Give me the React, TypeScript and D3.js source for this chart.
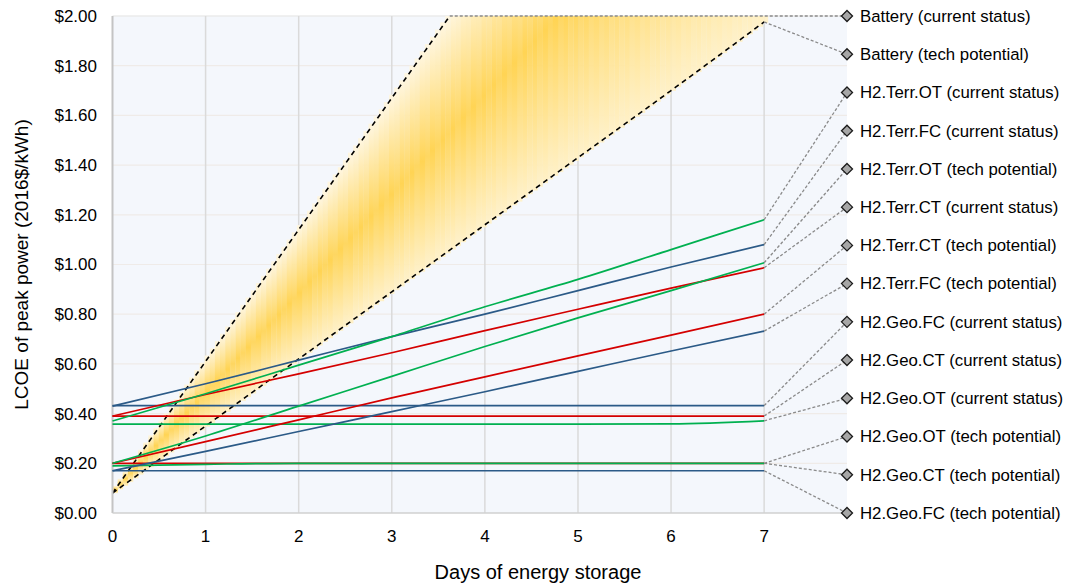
import React from "react";
import * as d3 from "d3";

// days of storage at which every series was read
const DAYS = [0, 1, 2, 3, 4, 5, 6, 7];

// battery LCOE band edges
const BATTERY_CURRENT = [0.08, 0.61, 1.14, 1.67, 2.2, 2.73, 3.26, 3.79];
const BATTERY_TECH = [0.08, 0.35, 0.62, 0.89, 1.16, 1.43, 1.7, 1.976];

// hydrogen series
const TERR_OT_CURRENT = [0.37, 0.48, 0.595, 0.71, 0.83, 0.94, 1.06, 1.18];
const TERR_FC_CURRENT = [0.43, 0.52, 0.615, 0.71, 0.8, 0.895, 0.99, 1.08];
const TERR_OT_TECH = [0.2, 0.31, 0.43, 0.55, 0.67, 0.785, 0.895, 1.007];
const TERR_CT_CURRENT = [0.39, 0.477, 0.56, 0.645, 0.734, 0.82, 0.905, 0.987];
const TERR_CT_TECH = [0.2, 0.287, 0.375, 0.463, 0.548, 0.632, 0.716, 0.8];
const TERR_FC_TECH = [0.17, 0.248, 0.328, 0.408, 0.488, 0.57, 0.652, 0.732];
const GEO_FC_CURRENT = [0.432, 0.432, 0.432, 0.432, 0.432, 0.432, 0.432, 0.432];
const GEO_CT_CURRENT = [0.39, 0.39, 0.39, 0.39, 0.39, 0.39, 0.39, 0.39];
const GEO_OT_CURRENT = [0.358, 0.358, 0.358, 0.358, 0.358, 0.358, 0.359, 0.371];
const GEO_OT_TECH = [0.19, 0.196, 0.2, 0.2, 0.2, 0.2, 0.2, 0.2];
const GEO_CT_TECH = [0.2, 0.2, 0.2, 0.2, 0.2, 0.2, 0.2, 0.2];
const GEO_FC_TECH = [0.17, 0.17, 0.17, 0.17, 0.17, 0.17, 0.17, 0.17];

const H2_SERIES = [
  { label: "H2.Terr.OT (current status)", tech: "OT", values: TERR_OT_CURRENT },
  { label: "H2.Terr.FC (current status)", tech: "FC", values: TERR_FC_CURRENT },
  { label: "H2.Terr.OT (tech potential)", tech: "OT", values: TERR_OT_TECH },
  { label: "H2.Terr.CT (current status)", tech: "CT", values: TERR_CT_CURRENT },
  { label: "H2.Terr.CT (tech potential)", tech: "CT", values: TERR_CT_TECH },
  { label: "H2.Terr.FC (tech potential)", tech: "FC", values: TERR_FC_TECH },
  { label: "H2.Geo.FC (current status)", tech: "FC", values: GEO_FC_CURRENT },
  { label: "H2.Geo.CT (current status)", tech: "CT", values: GEO_CT_CURRENT },
  { label: "H2.Geo.OT (current status)", tech: "OT", values: GEO_OT_CURRENT },
  { label: "H2.Geo.OT (tech potential)", tech: "OT", values: GEO_OT_TECH },
  { label: "H2.Geo.CT (tech potential)", tech: "CT", values: GEO_CT_TECH },
  { label: "H2.Geo.FC (tech potential)", tech: "FC", values: GEO_FC_TECH },
];

const BATTERY_LABELS = ["Battery (current status)", "Battery (tech potential)"];
const LEGEND_LABELS = [...BATTERY_LABELS, ...H2_SERIES.map((s) => s.label)];

const TECH_COLORS: Record<string, string> = {
  OT: "#00B050",
  FC: "#2B5A87",
  CT: "#D40000",
};

const Y_TICKS = [0, 0.2, 0.4, 0.6, 0.8, 1.0, 1.2, 1.4, 1.6, 1.8, 2.0];
const X_TICKS = DAYS;
const X_MAX = 7.89;

const FONT = "'Liberation Sans', Arial, sans-serif";

const App = () => {
  const left = 112.5;
  const right = 847;
  const top = 16;
  const bottom = 513;

  const x = d3.scaleLinear().domain([0, X_MAX]).range([left, right]);
  const y = d3.scaleLinear().domain([0, 2]).range([bottom, top]);
  const slot = d3.scalePoint<string>().domain(LEGEND_LABELS).range([top, bottom]);

  const line = d3
    .line<number>()
    .x((_, i) => x(DAYS[i]))
    .y((d) => y(d))
    .curve(d3.curveMonotoneX);

  const upper = d3.scaleLinear(DAYS, BATTERY_CURRENT);
  const lower = d3.scaleLinear(DAYS, BATTERY_TECH);
  const dayAtTop = d3.scaleLinear(BATTERY_CURRENT, DAYS)(2);
  const step = 0.055;
  const strips = d3.range(0, 7, step);
  const fmt = d3.format("$.2f");
  const lastDay = DAYS[DAYS.length - 1];

  const leaders = [
    { x0: x(dayAtTop), y0: y(2), label: BATTERY_LABELS[0] },
    { x0: x(lastDay), y0: y(BATTERY_TECH[BATTERY_TECH.length - 1]), label: BATTERY_LABELS[1] },
    ...H2_SERIES.map((s) => ({
      x0: x(lastDay),
      y0: y(s.values[s.values.length - 1]),
      label: s.label,
    })),
  ];

  return (
    <svg
      width={1065}
      height={586}
      style={{ position: "absolute", left: 0, top: 0, background: "#fff" }}
      fontFamily={FONT}
    >
      <defs>
        <clipPath id="plot">
          <rect x={left} y={top} width={right - left} height={bottom - top} />
        </clipPath>
        <linearGradient id="band" x1="0" y1="0" x2="0" y2="1">
          <stop offset="0" stopColor="#FFF7E2" />
          <stop offset="0.5" stopColor="#FFD454" />
          <stop offset="1" stopColor="#FFF1C8" />
        </linearGradient>
      </defs>

      <rect x={left} y={top} width={right - left} height={bottom - top} fill="#F4F7FC" />
      <line x1={left} x2={right} y1={top} y2={top} stroke="#EBEBEB" strokeWidth={1.5} />
      {Y_TICKS.slice(1, -1).map((t) => (
        <line key={t} x1={left} x2={right} y1={y(t)} y2={y(t)} stroke="#EFEBE8" strokeWidth={1.2} />
      ))}
      {X_TICKS.slice(1).map((t) => (
        <line key={t} x1={x(t)} x2={x(t)} y1={top} y2={bottom} stroke="#DADADA" strokeWidth={1.5} />
      ))}

      <g clipPath="url(#plot)">
        {strips.map((d, i) => (
          <rect
            key={d}
            x={x(d)}
            width={x(d + step) - x(d) + 0.3}
            y={y(upper(d + step))}
            height={y(lower(d)) - y(upper(d + step))}
            fill="url(#band)"
            opacity={i % 2 ? 0.92 : 1}
          />
        ))}
        <path
          d={line(BATTERY_CURRENT) ?? ""}
          fill="none"
          stroke="#000"
          strokeWidth={1.6}
          strokeDasharray="5,4"
        />
        <path
          d={line(BATTERY_TECH) ?? ""}
          fill="none"
          stroke="#000"
          strokeWidth={1.6}
          strokeDasharray="5,4"
        />
      </g>

      <line x1={left} x2={left} y1={top} y2={bottom} stroke="#C4C4C4" strokeWidth={2} />
      <line x1={left} x2={right} y1={bottom} y2={bottom} stroke="#D0D0D0" strokeWidth={1.5} />

      {[...H2_SERIES].reverse().map((s) => (
        <path
          key={s.label}
          d={line(s.values) ?? ""}
          fill="none"
          stroke={TECH_COLORS[s.tech]}
          strokeWidth={1.7}
        />
      ))}

      {leaders.map((l) => {
        const ly = slot(l.label) ?? 0;
        return (
          <g key={l.label}>
            <line
              x1={l.x0}
              y1={l.y0}
              x2={right}
              y2={ly}
              stroke="#8A8A8A"
              strokeWidth={1.3}
              strokeDasharray="3,2"
            />
            <path
              d={`M${right},${ly - 5.5}L${right + 5.5},${ly}L${right},${ly + 5.5}L${right - 5.5},${ly}Z`}
              fill="#A6A6A6"
              stroke="#1A1A1A"
              strokeWidth={1.3}
            />
            <text x={860} y={ly} dy="0.35em" fontSize={16.8} fill="#000">
              {l.label}
            </text>
          </g>
        );
      })}

      {Y_TICKS.map((t) => (
        <text key={t} x={97} y={y(t)} dy="0.35em" textAnchor="end" fontSize={17} fill="#000">
          {fmt(t)}
        </text>
      ))}
      {X_TICKS.map((t) => (
        <text key={t} x={x(t)} y={542} textAnchor="middle" fontSize={17} fill="#000">
          {t}
        </text>
      ))}

      <text x={538} y={579} textAnchor="middle" fontSize={20} fill="#000">
        Days of energy storage
      </text>
      <text
        transform={`translate(28, ${(top + bottom) / 2}) rotate(-90)`}
        textAnchor="middle"
        fontSize={19}
        fill="#000"
      >
        LCOE of peak power (2016$/kWh)
      </text>
    </svg>
  );
};

export default App;
